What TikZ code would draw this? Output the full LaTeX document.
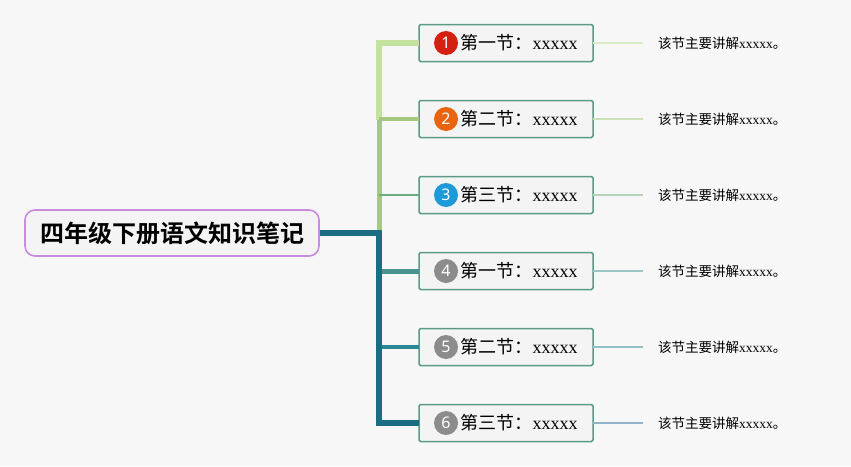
\documentclass[tikz,border=0pt]{standalone}
\usepackage{fontspec}
\usepackage{xcolor}
\setmainfont{Liberation Serif}
\newfontfamily\cjk{Noto Sans CJK SC}[BoldFont={Noto Sans CJK SC Bold}]
\newfontfamily\numfont{Noto Sans}
\usetikzlibrary{positioning,calc}

\definecolor{bgcol}{HTML}{F7F7F7}
\definecolor{boxfill}{HTML}{F4F4F4}
\definecolor{rootline}{HTML}{C98BDB}
\definecolor{boxline}{HTML}{5B9A88}
\definecolor{brone}{HTML}{C5E1A0}
\definecolor{brtwo}{HTML}{A6C97F}
\definecolor{brthree}{HTML}{6DAA84}
\definecolor{brfour}{HTML}{47958E}
\definecolor{brfive}{HTML}{2B8696}
\definecolor{brsix}{HTML}{1B6E82}
\definecolor{ldone}{HTML}{D8EDC5}
\definecolor{ldtwo}{HTML}{CBE2B5}
\definecolor{ldthree}{HTML}{B5D2BA}
\definecolor{ldfour}{HTML}{9CC6C6}
\definecolor{ldfive}{HTML}{90C0C8}
\definecolor{ldsix}{HTML}{8FB4C8}
\definecolor{dotred}{HTML}{D42010}
\definecolor{dotorange}{HTML}{E8640F}
\definecolor{dotblue}{HTML}{1E9AD8}
\definecolor{dotgray}{HTML}{8C8C8C}

\tikzset{
  rootbox/.style={rectangle, draw=rootline, line width=1.6pt, fill=boxfill,
    rounded corners=10pt, minimum width=294pt, minimum height=46pt,
    font=\cjk\bfseries\fontsize{24}{24}\selectfont},
  secbox/.style={rectangle, draw=boxline, line width=1.5pt, fill=boxfill,
    rounded corners=1.5pt, minimum width=174pt, minimum height=37pt,
    outer sep=0pt, inner sep=0pt, font=\fontsize{18}{18}\selectfont},
  numdot/.style={circle, minimum size=24pt, inner sep=0pt, text=white,
    font=\numfont\fontsize{16}{16}\selectfont},
  desc/.style={anchor=west, inner sep=3pt, font=\fontsize{13.5}{13.5}\selectfont},
  lead/.style={line width=1.6pt}
}

\newcommand{\sectxt}[1]{\hspace*{26pt}{\cjk 第#1节：}xxxxx}
\newcommand{\desctxt}{{\cjk 该节主要讲解}{\fontsize{13.5}{13.5}\selectfont xxxxx}{\cjk 。}}

\begin{document}
\begin{tikzpicture}[x=1pt, y=-1pt, node distance=39pt]
  \fill[bgcol] (0,0) rectangle (851,466);

  % root and the six sections
  \node[rootbox] (root) at (172,233) {四年级下册语文知识笔记};
  \coordinate (hub) at (379,233);

  \node[secbox] (s1) at (506,43) {\sectxt{一}};
  \node[secbox, below=of s1] (s2) {\sectxt{二}};
  \node[secbox, below=of s2] (s3) {\sectxt{三}};
  \node[secbox, below=of s3] (s4) {\sectxt{一}};
  \node[secbox, below=of s4] (s5) {\sectxt{二}};
  \node[secbox, below=of s5] (s6) {\sectxt{三}};

  \node[numdot, fill=dotred] (n1) at ([xshift=27pt]s1.west) {1};
  \node[numdot, fill=dotorange] (n2) at ([xshift=27pt]s2.west) {2};
  \node[numdot, fill=dotblue] (n3) at ([xshift=27pt]s3.west) {3};
  \node[numdot, fill=dotgray] (n4) at ([xshift=27pt]s4.west) {4};
  \node[numdot, fill=dotgray] (n5) at ([xshift=27pt]s5.west) {5};
  \node[numdot, fill=dotgray] (n6) at ([xshift=27pt]s6.west) {6};

  % descriptions
  \node[desc, right=62pt of s1] (d1) {\desctxt};
  \node[desc, right=62pt of s2] (d2) {\desctxt};
  \node[desc, right=62pt of s3] (d3) {\desctxt};
  \node[desc, right=62pt of s4] (d4) {\desctxt};
  \node[desc, right=62pt of s5] (d5) {\desctxt};
  \node[desc, right=62pt of s6] (d6) {\desctxt};

  \draw[lead, ldone] (s1.east) -- ([xshift=-12pt]d1.west);
  \draw[lead, ldtwo] (s2.east) -- ([xshift=-12pt]d2.west);
  \draw[lead, ldthree] (s3.east) -- ([xshift=-12pt]d3.west);
  \draw[lead, ldfour] (s4.east) -- ([xshift=-12pt]d4.west);
  \draw[lead, ldfive] (s5.east) -- ([xshift=-12pt]d5.west);
  \draw[lead, ldsix] (s6.east) -- ([xshift=-12pt]d6.west);

  % branches
  \draw[line width=5pt, brtwo] (hub |- s2) -- ([yshift=-2pt]hub);
  \draw[line width=6pt, brone] (s1.west) -- (hub |- s1) -- ([yshift=-1pt]hub |- s2);
  \draw[line width=4pt, brtwo] (hub |- s2) -- (s2.west);
  \draw[line width=2pt, brthree] (hub |- s3) -- (s3.west);
  \draw[line width=5pt, brfour] (hub |- s4) -- (s4.west);
  \draw[line width=3.5pt, brfive] (hub |- s5) -- (s5.west);
  \draw[line width=6pt, brsix] (root.east) -- (hub) -- (hub |- s6) -- (s6.west);
\end{tikzpicture}
\end{document}
